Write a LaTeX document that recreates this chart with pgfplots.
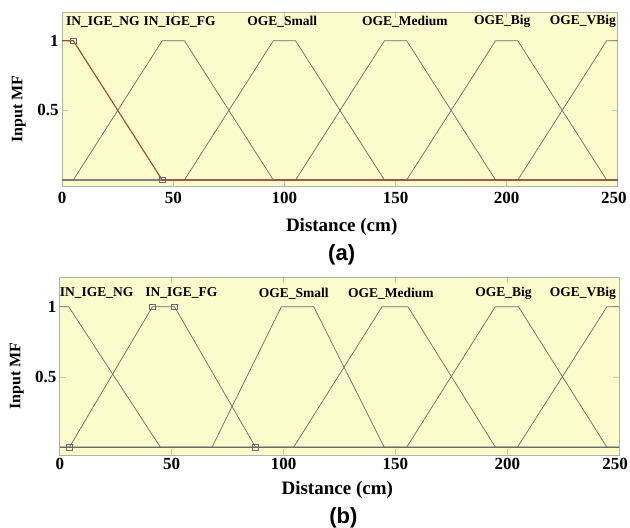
\documentclass[border=0pt]{standalone}
\usepackage{fontspec}
\setmainfont{Liberation Serif}
\newfontfamily\arialfont{Liberation Sans}
\usepackage{pgfplots}
\pgfplotsset{compat=1.18}
\definecolor{bgyellow}{RGB}{252,251,204}
\definecolor{mfgray}{RGB}{105,105,105}
\definecolor{mfred}{RGB}{160,70,45}
\definecolor{boxgray}{RGB}{175,175,175}
\definecolor{tickgray}{RGB}{195,195,195}
\tikzset{mflab/.style={font=\fontsize{13.5}{13.5}\selectfont\bfseries, anchor=center, inner sep=0pt}}
\pgfplotsset{
  mfaxis/.style={
    scale only axis,
    clip mode=individual,
    xmin=0, xmax=250,
    xtick={0,50,100,150,200,250},
    xticklabels={0,50,100,150,200,{\makebox[0pt]{\hspace{-8pt}250}}},
    ytick={0.5,1},
    yticklabels={0.5,1},
    axis background/.style={fill=bgyellow},
    axis line style={draw=boxgray, line width=1pt},
    tick style={draw=tickgray, line width=0.8pt},
    major tick length=6pt,
    tick align=inside,
    /pgf/number format/assume math mode=true,
    ticklabel style={font=\fontsize{17}{17}\selectfont\bfseries},
    xlabel={Distance (cm)},
    ylabel={Input MF},
    xlabel style={font=\fontsize{19}{19}\selectfont\bfseries, anchor=center},
    ylabel style={font=\fontsize{16}{16}\selectfont\bfseries, anchor=center},
    every axis plot/.append style={line width=0.7pt},
  },
}
\begin{document}
\begin{tikzpicture}
\useasboundingbox (0pt,0pt) rectangle (630pt,528pt);
% ---------- (a) ----------
\begin{axis}[mfaxis,
  at={(62.2pt,341.3pt)}, anchor=south west,
  width=555.6pt, height=174.4pt,
  ymin=-0.048, ymax=1.204,
  xticklabel style={yshift=-2pt},
  xlabel style={at={(axis description cs:0.503,-0.229)}},
  ylabel style={at={(axis description cs:-0.078,0.446)}},
]
\addplot[mfgray] coordinates {(0,0)(5,0)(45,1)(55,1)(95,0)(250,0)};
\addplot[mfgray] coordinates {(0,0)(55,0)(95,1)(105,1)(145,0)(250,0)};
\addplot[mfgray] coordinates {(0,0)(105,0)(145,1)(155,1)(195,0)(250,0)};
\addplot[mfgray] coordinates {(0,0)(155,0)(195,1)(205,1)(245,0)(250,0)};
\addplot[mfgray] coordinates {(0,0)(205,0)(245,1)(250,1)};
\addplot[mfred, line width=1.1pt] coordinates {(0,1)(5,1)(45,0)(250,0)};
\addplot[only marks, mark=square, mark size=2.8pt, mfgray, mark options={fill=none, line width=0.7pt}] coordinates {(5,1)(45,0)};
\node[mflab] at (axis cs:18.3,1.136) {IN\_IGE\_NG};
\node[mflab] at (axis cs:52.8,1.136) {IN\_IGE\_FG};
\node[mflab] at (axis cs:99,1.136) {OGE\_Small};
\node[mflab] at (axis cs:154.2,1.136) {OGE\_Medium};
\node[mflab] at (axis cs:198,1.136) {OGE\_Big};
\node[mflab] at (axis cs:234.3,1.136) {OGE\_VBig};
\node[font=\fontsize{22}{22}\selectfont\arialfont\bfseries] at (axis description cs:0.503,-0.392) {(a)};
\end{axis}
% ---------- (b) ----------
\begin{axis}[mfaxis,
  at={(59.8pt,73pt)}, anchor=south west,
  width=559.4pt, height=177.7pt,
  ymin=-0.055, ymax=1.21,
  xlabel style={at={(axis description cs:0.496,-0.197)}},
  ylabel style={at={(axis description cs:-0.077,0.445)}},
]
\addplot[mfgray] coordinates {(0,1)(4,1)(45,0)(250,0)};
\addplot[mfgray] coordinates {(0,0)(4.3,0)(41.4,1)(51.3,1)(87.5,0)(250,0)};
\addplot[mfgray] coordinates {(0,0)(68,0)(99,1)(113.5,1)(145,0)(250,0)};
\addplot[mfgray] coordinates {(0,0)(104.5,0)(144,1)(155.6,1)(194.7,0)(250,0)};
\addplot[mfgray] coordinates {(0,0)(155,0)(194.6,1)(205,1)(244.5,0)(250,0)};
\addplot[mfgray] coordinates {(0,0)(204.5,0)(244.5,1)(250,1)};
\addplot[only marks, mark=square, mark size=2.8pt, mfgray, mark options={fill=none, line width=0.7pt}] coordinates {(4.3,0)(41.4,1)(51.3,1)(87.5,0)};
\node[mflab] at (axis cs:16.5,1.095) {IN\_IGE\_NG};
\node[mflab] at (axis cs:54.3,1.095) {IN\_IGE\_FG};
\node[mflab] at (axis cs:104.6,1.095) {OGE\_Small};
\node[mflab] at (axis cs:148,1.095) {OGE\_Medium};
\node[mflab] at (axis cs:198.3,1.095) {OGE\_Big};
\node[mflab] at (axis cs:233.8,1.095) {OGE\_VBig};
\node[font=\fontsize{22}{22}\selectfont\arialfont\bfseries] at (axis description cs:0.507,-0.356) {(b)};
\end{axis}
\end{tikzpicture}
\end{document}
